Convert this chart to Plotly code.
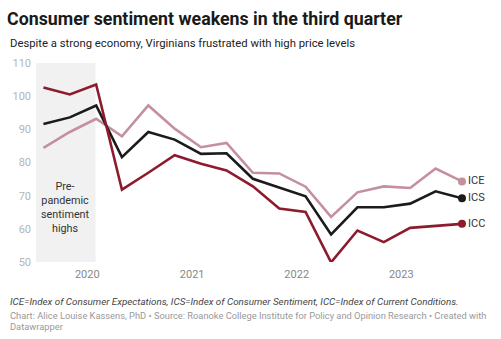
import plotly.graph_objects as go

# Quarterly survey dates
dates = [
    "2019-08-01", "2019-11-01", "2020-02-01", "2020-05-01", "2020-08-01",
    "2020-11-01", "2021-02-01", "2021-05-01", "2021-08-01", "2021-11-01",
    "2022-02-01", "2022-05-01", "2022-08-01", "2022-11-01", "2023-02-01",
    "2023-05-01", "2023-08-01",
]

# Index of Consumer Expectations
ice = [84.4, 89.2, 93.2, 87.9, 97.2, 90.2, 84.6, 85.9, 76.9, 76.7,
       72.7, 63.6, 71.0, 72.8, 72.3, 78.2, 74.3]
# Index of Consumer Sentiment
ics = [91.6, 93.6, 97.2, 81.6, 89.2, 86.9, 82.6, 82.8, 75.1, 72.5,
       69.8, 58.3, 66.5, 66.5, 67.6, 71.3, 69.2]
# Index of Current Conditions
icc = [102.6, 100.5, 103.5, 71.8, 76.9, 82.2, 79.6, 77.6, 72.8, 66.1,
       65.1, 49.9, 59.5, 56.0, 60.3, 61.0, 61.5]

series_names = ["ICE", "ICS", "ICC"]
series_colors = ["#c4909e", "#1b1b1b", "#8d1b2e"]

year_ticks = ["2020-01-01", "2021-01-01", "2022-01-01", "2023-01-01"]
year_labels = ["2020", "2021", "2022", "2023"]
y_ticks = [50, 60, 70, 80, 90, 100, 110]

highlight_start = "2019-07-06"
highlight_end = "2020-01-30"
highlight_label = "Pre-<br>pandemic<br>sentiment<br>highs"

W, H = 501, 339
L, R, T, B = 30, 39, 63, 77
plot_w = W - L - R
plot_h = H - T - B


def px_x(px):
    return (px - L) / plot_w


def px_y(py):
    return (H - B - py) / plot_h


FONT = "Roboto"

fig = go.Figure()

for name, vals, col in zip(series_names, [ice, ics, icc], series_colors):
    fig.add_trace(go.Scatter(
        x=dates, y=vals, mode="lines", name=name,
        line=dict(color=col, width=2.6), hoverinfo="skip",
    ))
    fig.add_trace(go.Scatter(
        x=[dates[-1]], y=[vals[-1]], mode="markers+text",
        marker=dict(color=col, size=8),
        text=[name], textposition="middle right",
        textfont=dict(family=FONT, size=11, color="#333333"),
        hoverinfo="skip", cliponaxis=False,
    ))

# Pre-pandemic highlight band
fig.add_shape(
    type="rect", xref="x", yref="y",
    x0=highlight_start, x1=highlight_end, y0=50, y1=110,
    fillcolor="#f1f1f1", line=dict(width=0), layer="below",
)

annotations = [
    dict(text=highlight_label, xref="x", yref="paper", x="2019-10-18",
         y=px_y(207), yanchor="middle", showarrow=False, align="center",
         borderpad=0,
         font=dict(family=FONT, size=10.8, color="#333333")),
    dict(text="Despite a strong economy, Virginians frustrated with high price levels",
         xref="paper", yref="paper", x=px_x(2), y=px_y(44), xanchor="left",
         yanchor="middle", showarrow=False,
         font=dict(family=FONT, size=11.3, color="#222222")),
    dict(text="<i>ICE=Index of Consumer Expectations, ICS=Index of Consumer Sentiment, "
              "ICC=Index of Current Conditions.</i>",
         xref="paper", yref="paper", x=px_x(2), y=px_y(301), xanchor="left",
         yanchor="middle", showarrow=False,
         font=dict(family=FONT, size=9.8, color="#444444")),
    dict(text="Chart: Alice Louise Kassens, PhD • Source: Roanoke College Institute for "
              "Policy and Opinion Research • Created with",
         xref="paper", yref="paper", x=px_x(2), y=px_y(315), xanchor="left",
         yanchor="middle", showarrow=False,
         font=dict(family=FONT, size=9.3, color="#999999")),
    dict(text="Datawrapper",
         xref="paper", yref="paper", x=px_x(2), y=px_y(326), xanchor="left",
         yanchor="middle", showarrow=False,
         font=dict(family=FONT, size=9.3, color="#999999")),
]

fig.update_layout(
    width=W, height=H,
    margin=dict(l=L, r=R, t=T, b=B, pad=0),
    paper_bgcolor="white", plot_bgcolor="white",
    showlegend=False,
    title=dict(
        text="<b>Consumer sentiment weakens in the third quarter</b>",
        xref="container", yref="container", x=7 / W, y=1 - 19 / H,
        xanchor="left", yanchor="middle",
        font=dict(family=FONT, size=17.8, color="#1a1a1a"),
    ),
    annotations=annotations,
    xaxis=dict(
        type="date", range=[highlight_start, dates[-1]],
        tickvals=year_ticks, ticktext=year_labels,
        showgrid=False, zeroline=False, showline=False, ticks="",
        tickfont=dict(family=FONT, size=11, color="#888888"),
        ticklabelstandoff=4,
    ),
    yaxis=dict(
        range=[50, 110], tickvals=y_ticks,
        showgrid=False, zeroline=False, showline=False, ticks="",
        tickfont=dict(family=FONT, size=11, color="#b5b5b5"),
        ticklabelstandoff=4,
    ),
)

fig.write_html("out.html")
